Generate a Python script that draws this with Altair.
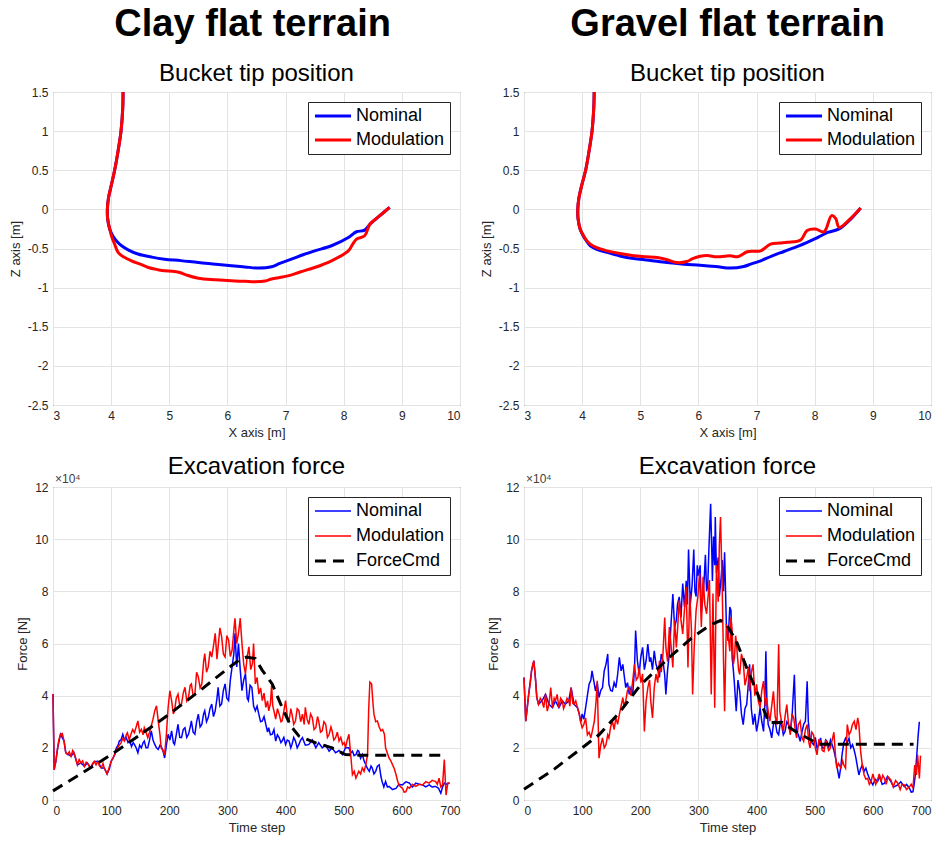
import altair as alt
import pandas as pd

FONT = "Liberation Sans"
BLUE = "#0000ff"
RED = "#ff0000"
BLACK = "#000000"

# ---------------- Bucket tip position (X [m], Z [m]) ----------------
clay_nom_x = [4.205, 4.20, 4.17, 4.12, 4.06, 4.0, 3.955, 3.935, 3.94, 3.975, 4.03, 4.10, 4.18, 4.30, 4.46, 4.70, 4.92, 5.20, 5.50, 5.80, 6.07, 6.30, 6.53, 6.76, 6.90, 7.10, 7.30, 7.50, 7.79, 8.08, 8.15, 8.22, 8.36, 8.45, 8.59, 8.79]
clay_nom_z = [1.5, 1.3, 1.0, 0.75, 0.50, 0.30, 0.15, 0.0, -0.12, -0.25, -0.34, -0.41, -0.465, -0.52, -0.57, -0.61, -0.636, -0.655, -0.68, -0.70, -0.72, -0.735, -0.75, -0.734, -0.69, -0.636, -0.58, -0.53, -0.465, -0.36, -0.32, -0.286, -0.265, -0.19, -0.10, 0.025]
clay_mod_x = [4.205, 4.20, 4.17, 4.12, 4.06, 4.0, 3.955, 3.935, 3.94, 3.975, 4.01, 4.06, 4.12, 4.22, 4.35, 4.50, 4.64, 4.80, 4.92, 5.05, 5.18, 5.30, 5.50, 5.80, 6.07, 6.30, 6.47, 6.65, 6.76, 6.90, 7.04, 7.25, 7.50, 7.79, 8.08, 8.15, 8.22, 8.36, 8.45, 8.59, 8.79]
clay_mod_z = [1.5, 1.3, 1.0, 0.75, 0.50, 0.30, 0.15, 0.0, -0.12, -0.25, -0.35, -0.444, -0.55, -0.61, -0.657, -0.70, -0.743, -0.77, -0.785, -0.79, -0.807, -0.84, -0.88, -0.90, -0.913, -0.92, -0.926, -0.915, -0.89, -0.87, -0.85, -0.80, -0.743, -0.657, -0.53, -0.45, -0.38, -0.337, -0.19, -0.10, 0.025]

grav_nom_x = [4.207, 4.20, 4.17, 4.12, 4.06, 3.99, 3.945, 3.925, 3.93, 3.965, 4.02, 4.08, 4.14, 4.25, 4.43, 4.65, 4.885, 5.15, 5.46, 5.75, 6.03, 6.30, 6.55, 6.78, 6.90, 7.07, 7.25, 7.47, 7.75, 7.99, 8.10, 8.22, 8.42, 8.62, 8.79]
grav_nom_z = [1.5, 1.3, 1.0, 0.75, 0.50, 0.30, 0.15, 0.0, -0.12, -0.25, -0.34, -0.41, -0.465, -0.51, -0.55, -0.595, -0.628, -0.65, -0.68, -0.70, -0.713, -0.73, -0.75, -0.73, -0.70, -0.657, -0.60, -0.538, -0.46, -0.38, -0.34, -0.295, -0.25, -0.124, 0.017]
grav_mod_x = [4.207, 4.20, 4.17, 4.12, 4.06, 3.99, 3.945, 3.925, 3.93, 3.965, 4.02, 4.08, 4.14, 4.25, 4.43, 4.65, 4.885, 5.10, 5.29, 5.45, 5.63, 5.80, 5.90, 6.03, 6.15, 6.31, 6.45, 6.55, 6.67, 6.84, 6.95, 7.07, 7.24, 7.40, 7.53, 7.76, 7.87, 8.01, 8.16, 8.29, 8.36, 8.42, 8.62, 8.79]
grav_mod_z = [1.5, 1.3, 1.0, 0.75, 0.50, 0.30, 0.15, 0.0, -0.12, -0.25, -0.33, -0.40, -0.444, -0.49, -0.53, -0.565, -0.593, -0.605, -0.615, -0.64, -0.68, -0.666, -0.63, -0.60, -0.59, -0.606, -0.60, -0.593, -0.606, -0.542, -0.535, -0.53, -0.444, -0.43, -0.42, -0.39, -0.27, -0.25, -0.286, -0.08, -0.115, -0.23, -0.115, 0.017]

# ---------------- Excavation force (x 10^4 N) vs time step ----------------
clay_mod_t = [0, 2, 5, 8, 10, 13, 16, 19, 22, 25, 28, 31, 34, 36, 39, 42, 45, 48, 51, 54, 57, 59, 62, 65, 68, 71, 74, 77, 80, 83, 86, 88, 91, 93, 96, 100, 103, 106, 109, 111, 114, 117, 120, 123, 126, 128, 131, 134, 137, 140, 143, 146, 149, 152, 155, 157, 160, 163, 166, 169, 172, 175, 178, 181, 184, 186, 189, 192, 195, 198, 201, 204, 207, 209, 212, 215, 218, 221, 224, 227, 230, 233, 236, 238, 241, 244, 247, 250, 253, 256, 259, 261, 264, 267, 270, 273, 276, 279, 282, 284, 287, 290, 293, 296, 299, 302, 305, 308, 311, 313, 316, 319, 322, 325, 328, 331, 334, 337, 340, 343, 345, 348, 351, 354, 357, 360, 363, 366, 369, 371, 374, 376, 378, 380, 383, 386, 389, 392, 394, 397, 400, 403, 406, 409, 411, 414, 417, 420, 423, 426, 429, 432, 434, 437, 440, 443, 446, 449, 452, 455, 457, 460, 463, 466, 469, 472, 475, 478, 480, 483, 486, 489, 492, 495, 498, 501, 503, 506, 509, 512, 515, 518, 521, 524, 526, 529, 532, 535, 538, 541, 543, 545, 548, 550, 552, 555, 558, 561, 564, 567, 570, 572, 575, 578, 581, 584, 587, 590, 593, 595, 598, 601, 604, 607, 610, 613, 618, 624, 630, 636, 641, 647, 652, 658, 661, 664, 667, 670, 673, 676, 679, 682]
clay_mod_f = [4.06, 1.16, 1.5, 2.0, 2.3, 2.52, 2.55, 2.26, 1.81, 1.74, 1.85, 1.68, 1.9, 1.81, 1.6, 1.35, 1.55, 1.42, 1.5, 1.29, 1.45, 1.42, 1.3, 1.23, 1.4, 1.48, 1.35, 1.48, 1.3, 1.23, 1.4, 1.23, 1.1, 1.0, 1.2, 1.48, 1.6, 1.74, 1.9, 2.0, 2.1, 2.19, 2.35, 2.26, 2.5, 2.58, 2.3, 2.52, 2.7, 2.58, 2.8, 3.03, 2.6, 2.71, 2.5, 2.77, 2.6, 2.39, 2.6, 2.84, 3.1, 3.42, 3.61, 3.03, 2.5, 2.0, 1.9, 1.74, 2.52, 3.55, 4.19, 3.81, 3.3, 3.42, 3.9, 4.06, 3.6, 3.68, 4.1, 4.32, 3.8, 3.94, 4.4, 4.45, 4.0, 4.06, 4.9, 4.71, 4.3, 4.45, 5.3, 5.61, 4.9, 5.1, 5.7, 5.48, 5.9, 6.39, 5.4, 5.87, 6.6, 6.26, 5.6, 5.48, 6.3, 6.13, 5.5, 5.74, 6.5, 6.97, 6.0, 6.39, 6.97, 6.0, 5.2, 4.84, 5.5, 5.87, 5.0, 5.23, 6.0, 4.45, 4.7, 4.06, 4.3, 3.81, 4.1, 3.55, 3.8, 3.42, 3.7, 4.39, 3.6, 3.42, 3.1, 3.5, 3.29, 3.0, 3.03, 3.4, 3.81, 3.2, 3.03, 3.5, 3.29, 2.9, 3.03, 3.5, 3.42, 3.0, 3.29, 2.9, 3.55, 3.1, 2.9, 3.3, 3.16, 2.7, 2.77, 3.2, 3.03, 2.6, 2.65, 3.0, 2.9, 2.4, 2.52, 2.8, 2.65, 2.3, 2.39, 2.6, 2.26, 2.4, 2.13, 2.2, 2.0, 2.3, 2.52, 1.74, 0.97, 1.1, 0.84, 1.0, 1.1, 1.0, 1.23, 1.1, 1.35, 1.74, 3.5, 4.52, 4.45, 3.8, 3.29, 3.0, 3.03, 2.8, 2.65, 2.7, 2.52, 2.0, 1.8, 1.61, 1.5, 1.35, 1.2, 0.97, 0.7, 0.58, 0.5, 0.45, 0.3, 0.32, 0.5, 0.45, 0.6, 0.52, 0.6, 0.58, 0.7, 0.65, 0.75, 0.71, 0.6, 0.84, 0.5, 0.58, 1.55, 0.19, 0.65, 0.65]

clay_nom_t = [0, 2, 5, 8, 13, 19, 22, 31, 36, 42, 48, 54, 59, 65, 71, 77, 83, 88, 93, 97, 100, 103, 106, 109, 112, 114, 117, 120, 123, 126, 129, 132, 135, 138, 140, 143, 146, 149, 152, 155, 157, 160, 163, 166, 169, 172, 175, 178, 181, 184, 186, 189, 192, 195, 198, 201, 204, 207, 209, 212, 215, 218, 221, 224, 227, 230, 233, 236, 238, 241, 244, 247, 250, 253, 256, 259, 261, 264, 267, 270, 273, 276, 279, 282, 284, 287, 290, 293, 296, 299, 302, 305, 308, 311, 313, 316, 319, 322, 325, 328, 331, 334, 336, 339, 342, 345, 348, 351, 354, 357, 360, 363, 366, 369, 371, 374, 377, 380, 383, 386, 389, 392, 394, 397, 400, 403, 406, 409, 411, 414, 417, 420, 423, 426, 429, 434, 440, 446, 452, 457, 463, 469, 475, 480, 486, 492, 498, 503, 509, 512, 515, 518, 521, 524, 526, 529, 532, 535, 538, 541, 544, 547, 549, 552, 555, 558, 561, 564, 566, 569, 572, 575, 578, 584, 590, 595, 601, 607, 613, 618, 624, 630, 636, 641, 647, 652, 658, 663, 667, 670, 673, 676, 682]
clay_nom_f = [4.06, 1.16, 1.5, 2.0, 2.52, 2.26, 1.81, 1.68, 1.81, 1.35, 1.42, 1.29, 1.42, 1.23, 1.48, 1.48, 1.23, 1.23, 1.0, 1.2, 1.48, 1.6, 1.74, 2.0, 2.1, 2.26, 2.3, 2.52, 2.3, 2.39, 2.2, 2.26, 2.05, 2.2, 2.13, 2.0, 1.81, 2.1, 2.0, 2.2, 2.26, 2.0, 2.0, 2.3, 2.65, 2.3, 2.13, 2.0, 1.94, 2.1, 2.06, 1.9, 1.61, 2.1, 2.52, 2.3, 2.65, 2.2, 2.13, 2.5, 2.9, 2.4, 2.39, 2.7, 2.77, 2.4, 2.52, 2.8, 3.03, 2.6, 2.52, 3.0, 3.29, 2.8, 2.9, 3.3, 3.42, 3.0, 3.16, 3.5, 3.68, 3.2, 3.42, 3.9, 4.32, 3.6, 3.68, 4.2, 4.45, 3.9, 3.81, 4.6, 5.1, 5.6, 6.39, 5.1, 6.0, 5.0, 4.19, 4.6, 4.84, 3.9, 3.81, 4.4, 4.32, 3.6, 3.42, 3.6, 3.29, 3.0, 3.03, 3.2, 2.9, 2.6, 2.77, 2.5, 2.52, 2.7, 2.26, 2.5, 2.39, 2.2, 2.26, 2.4, 2.13, 2.3, 2.26, 2.0, 2.13, 2.4, 2.26, 2.0, 2.13, 2.3, 2.39, 2.1, 2.13, 2.3, 2.0, 2.2, 2.0, 2.1, 1.87, 2.0, 1.81, 1.9, 1.74, 2.0, 2.0, 1.8, 1.87, 1.7, 1.74, 1.9, 1.87, 1.6, 1.74, 1.5, 1.35, 1.2, 1.1, 1.3, 1.23, 1.0, 1.1, 1.3, 1.35, 0.9, 0.71, 0.5, 0.71, 0.5, 0.52, 0.4, 0.45, 0.6, 0.58, 0.7, 0.65, 0.5, 0.65, 0.6, 0.58, 0.5, 0.58, 0.5, 0.52, 0.45, 0.26, 0.5, 0.65, 0.6, 0.65]

clay_cmd_t = [0, 50, 100, 150, 200, 250, 300, 319, 333, 348, 360, 377, 394, 409, 423, 452, 480, 503, 526, 668]
clay_cmd_f = [0.35, 1.03, 1.74, 2.5, 3.29, 4.15, 5.03, 5.35, 5.48, 5.42, 4.97, 4.45, 3.55, 2.84, 2.45, 2.19, 2.0, 1.74, 1.72, 1.72]

grav_mod_t = [0, 3, 6, 8, 11, 13, 15, 17, 20, 22, 25, 28, 31, 34, 37, 40, 43, 46, 49, 52, 54, 57, 60, 63, 66, 68, 71, 74, 77, 79, 81, 84, 86, 89, 92, 95, 97, 100, 103, 106, 109, 112, 115, 118, 121, 124, 126, 129, 132, 135, 138, 141, 144, 146, 149, 152, 155, 158, 161, 164, 167, 170, 172, 175, 178, 181, 184, 187, 190, 193, 196, 198, 201, 204, 207, 210, 213, 216, 218, 221, 224, 227, 230, 233, 236, 239, 242, 244, 247, 250, 253, 256, 259, 262, 264, 267, 270, 273, 276, 279, 282, 285, 288, 290, 293, 296, 299, 302, 305, 308, 311, 314, 317, 319, 322, 325, 328, 331, 334, 336, 338, 341, 343, 345, 348, 351, 354, 356, 358, 360, 362, 364, 366, 369, 371, 374, 377, 380, 383, 386, 388, 391, 394, 397, 400, 403, 406, 409, 412, 415, 417, 420, 423, 426, 429, 432, 435, 438, 440, 443, 446, 449, 452, 455, 458, 461, 464, 467, 469, 472, 475, 478, 481, 484, 487, 490, 492, 495, 498, 501, 504, 507, 510, 513, 516, 519, 521, 524, 527, 530, 533, 536, 538, 541, 545, 548, 550, 553, 556, 559, 562, 565, 568, 571, 574, 576, 579, 582, 585, 588, 591, 594, 597, 600, 602, 605, 608, 611, 614, 617, 620, 623, 626, 631, 635, 639, 643, 647, 650, 654, 658, 663, 666, 669, 672, 675, 677, 680, 682]
grav_mod_f = [4.7, 3.02, 3.6, 4.05, 4.5, 4.95, 5.2, 5.34, 4.57, 3.93, 3.67, 3.9, 3.8, 3.54, 4.05, 3.41, 3.67, 4.31, 3.54, 3.9, 3.8, 4.05, 3.54, 3.9, 3.8, 3.5, 3.67, 3.9, 3.8, 3.6, 4.31, 3.7, 3.67, 3.8, 3.54, 3.3, 3.02, 2.77, 2.9, 3.15, 2.5, 2.6, 2.38, 2.7, 3.02, 3.8, 4.57, 1.6, 2.1, 2.38, 2.0, 2.12, 2.5, 2.38, 2.8, 3.02, 2.7, 3.15, 2.9, 3.28, 3.6, 3.93, 3.6, 3.8, 4.2, 4.31, 4.0, 4.57, 5.2, 4.6, 4.7, 5.08, 4.5, 4.83, 2.63, 3.8, 4.31, 4.6, 3.8, 3.15, 4.3, 4.83, 4.5, 5.34, 4.9, 5.6, 7.0, 5.85, 5.3, 6.63, 5.9, 5.08, 6.89, 5.85, 6.5, 7.66, 6.9, 6.37, 7.3, 8.17, 5.08, 7.92, 6.5, 4.05, 6.0, 7.27, 7.8, 8.69, 6.63, 8.56, 7.5, 7.14, 7.9, 8.43, 4.05, 7.92, 3.54, 9.0, 7.6, 9.8, 10.85, 8.0, 5.5, 3.4, 6.74, 6.35, 5.7, 7.0, 6.48, 5.2, 5.46, 6.3, 5.84, 5.0, 4.81, 5.6, 5.33, 4.4, 4.69, 5.1, 4.17, 4.9, 5.2, 4.0, 4.43, 3.8, 3.53, 4.2, 4.56, 3.6, 3.92, 3.4, 3.02, 3.6, 4.17, 3.2, 2.89, 5.97, 3.4, 3.0, 2.63, 3.2, 3.66, 2.9, 2.5, 3.3, 3.14, 2.6, 2.38, 2.9, 3.02, 2.4, 2.25, 2.7, 2.89, 2.2, 2.0, 2.6, 2.5, 2.0, 1.73, 2.3, 2.25, 1.9, 1.86, 2.3, 2.12, 1.9, 1.99, 2.3, 2.6, 1.6, 1.22, 1.4, 1.22, 1.5, 1.35, 1.22, 2.89, 2.5, 2.63, 2.9, 3.02, 2.7, 3.15, 2.89, 1.86, 1.3, 0.96, 0.8, 0.83, 0.6, 0.71, 1.0, 0.83, 0.6, 0.77, 1.0, 0.7, 0.95, 0.83, 0.6, 0.9, 0.77, 0.5, 0.75, 0.64, 0.4, 0.6, 0.58, 0.4, 0.51, 0.6, 0.45, 1.34, 0.96, 1.73, 0.83, 1.7]

grav_nom_t = [0, 3, 8, 13, 17, 20, 22, 25, 31, 37, 43, 49, 54, 60, 66, 71, 77, 81, 86, 92, 95, 98, 100, 103, 106, 109, 112, 115, 117, 120, 123, 126, 129, 132, 135, 138, 141, 144, 146, 149, 152, 155, 158, 161, 164, 167, 170, 172, 175, 178, 181, 184, 187, 190, 192, 195, 198, 201, 204, 207, 210, 213, 216, 218, 221, 224, 227, 230, 233, 236, 239, 242, 244, 247, 250, 253, 256, 259, 262, 264, 267, 270, 273, 276, 279, 281, 283, 286, 289, 292, 294, 296, 298, 300, 303, 305, 307, 310, 312, 314, 316, 318, 321, 323, 324, 326, 328, 329, 331, 334, 336, 339, 341, 343, 345, 348, 351, 354, 356, 358, 360, 362, 365, 368, 371, 374, 377, 380, 383, 386, 388, 391, 394, 397, 400, 403, 406, 409, 412, 414, 416, 418, 420, 423, 426, 429, 432, 435, 438, 441, 443, 446, 449, 452, 455, 458, 461, 465, 467, 469, 472, 475, 478, 481, 484, 487, 489, 492, 495, 498, 501, 504, 507, 510, 513, 516, 519, 521, 524, 527, 530, 533, 536, 539, 542, 545, 547, 550, 553, 556, 559, 562, 565, 568, 571, 574, 576, 579, 582, 585, 588, 591, 594, 597, 600, 604, 608, 612, 616, 620, 625, 631, 636, 643, 648, 654, 658, 663, 666, 669, 671, 673, 676, 678, 680]
grav_nom_f = [4.7, 3.02, 4.05, 4.95, 5.34, 4.57, 3.93, 3.67, 3.8, 4.05, 3.67, 3.54, 3.8, 3.54, 3.8, 3.67, 3.8, 4.31, 3.67, 3.54, 3.3, 3.0, 3.3, 3.1, 3.54, 4.0, 4.44, 4.6, 4.95, 4.57, 4.18, 4.5, 3.93, 4.2, 4.31, 4.95, 5.2, 5.6, 4.44, 4.2, 4.18, 4.5, 4.31, 4.8, 5.47, 4.95, 5.2, 4.83, 4.31, 4.5, 4.05, 4.3, 4.05, 5.0, 6.5, 5.34, 4.83, 5.5, 5.85, 5.0, 5.34, 5.98, 5.3, 5.47, 5.0, 5.72, 5.21, 5.0, 4.7, 5.6, 5.34, 4.8, 4.05, 5.0, 5.6, 6.8, 7.9, 6.63, 6.89, 7.5, 7.79, 7.0, 8.3, 7.4, 8.4, 7.5, 9.6, 7.5, 8.2, 9.6, 8.0, 7.8, 9.0, 8.6, 9.0, 7.2, 7.6, 8.5, 9.4, 8.0, 8.2, 9.6, 11.36, 9.5, 8.4, 10.1, 9.0, 10.85, 8.7, 9.3, 7.8, 8.5, 9.2, 8.0, 9.5, 6.74, 6.1, 7.4, 7.26, 5.46, 5.0, 4.43, 3.4, 4.6, 4.17, 3.3, 2.89, 3.5, 3.66, 4.5, 5.2, 3.5, 2.89, 3.3, 2.63, 3.0, 3.53, 3.0, 2.63, 3.6, 5.7, 3.5, 2.89, 2.7, 2.38, 2.9, 3.02, 2.6, 2.5, 3.0, 2.89, 2.5, 2.63, 3.0, 2.89, 2.6, 3.2, 4.8, 3.2, 2.63, 2.5, 2.25, 2.6, 2.9, 3.02, 4.55, 3.0, 2.38, 2.2, 2.12, 2.4, 1.99, 2.1, 2.38, 2.0, 1.99, 2.3, 2.25, 2.0, 2.3, 2.12, 1.9, 1.6, 1.2, 0.83, 1.3, 1.73, 2.2, 2.37, 2.2, 2.37, 2.0, 2.12, 1.9, 1.6, 1.2, 0.96, 1.2, 1.35, 1.1, 1.22, 1.0, 0.83, 0.7, 0.58, 0.8, 0.71, 0.9, 0.6, 0.64, 0.9, 0.71, 0.5, 0.58, 0.7, 0.51, 0.6, 0.45, 0.3, 0.32, 0.6, 0.96, 1.86, 2.5, 3.0]

grav_cmd_t = [0, 50, 100, 129, 164, 200, 250, 290, 320, 338, 348, 365, 383, 400, 421, 444, 469, 498, 510, 670]
grav_cmd_f = [0.41, 1.15, 2.0, 2.5, 3.35, 4.4, 5.47, 6.24, 6.7, 6.88, 6.74, 6.1, 5.07, 4.17, 2.97, 2.97, 2.6, 2.25, 2.14, 2.14]

TIP_SERIES = ["Nominal", "Modulation"]
FORCE_SERIES = ["Nominal", "Modulation", "ForceCmd"]

PW, PH = 407, 313
RES = dict(color="independent", strokeDash="independent", strokeWidth="independent")


def tip_df(nx, nz, mx, mz):
    rows = []
    for i, (a, b) in enumerate(zip(nx, nz)):
        rows.append({"series": "Nominal", "idx": i, "x": a, "z": b})
    for i, (a, b) in enumerate(zip(mx, mz)):
        rows.append({"series": "Modulation", "idx": i, "x": a, "z": b})
    return pd.DataFrame(rows)


def force_df(nt, nf, mt, mf, ct, cf):
    rows = []
    for s, ts, fs in (("Nominal", nt, nf), ("Modulation", mt, mf), ("ForceCmd", ct, cf)):
        for a, b in zip(ts, fs):
            rows.append({"series": s, "t": a, "f": b})
    return pd.DataFrame(rows)


def legend_common(sw, row_pad):
    return alt.Legend(
        title=None, orient="top-right", offset=10, fillColor="white",
        strokeColor="#262626", padding=5, labelFontSize=18, labelFont=FONT,
        labelColor="black", symbolType="stroke", symbolSize=1300,
        symbolStrokeWidth=sw, rowPadding=row_pad, clipHeight=18,
        labelOffset=3, labelLimit=200,
    )


def tip_panel(df):
    base = alt.Chart(df).mark_line(strokeWidth=3, interpolate="catmull-rom").encode(
        x=alt.X("x:Q", scale=alt.Scale(domain=[3, 10], nice=False, zero=False),
                axis=alt.Axis(values=[3, 4, 5, 6, 7, 8, 9, 10], title="X axis [m]")),
        y=alt.Y("z:Q", scale=alt.Scale(domain=[-2.5, 1.5], nice=False, zero=False),
                axis=alt.Axis(values=[-2.5, -2, -1.5, -1, -0.5, 0, 0.5, 1, 1.5],
                              title="Z axis [m]", labelExpr="datum.value + ''")),
        order=alt.Order("idx:Q"),
        color=alt.Color("series:N", scale=alt.Scale(domain=TIP_SERIES, range=[BLUE, RED]),
                        legend=legend_common(3, 6)),
    )
    layers = alt.layer(
        base.transform_filter("datum.series == 'Nominal'"),
        base.transform_filter("datum.series == 'Modulation'"),
    )
    return layers.properties(
        width=PW, height=PH,
        title=alt.Title("Bucket tip position", fontSize=24, font=FONT,
                        fontWeight="normal", color="black", offset=0),
    )


def force_panel(df):
    leg = legend_common(2, 7)
    base = alt.Chart(df).mark_line().encode(
        x=alt.X("t:Q", scale=alt.Scale(domain=[0, 700], nice=False, zero=False),
                axis=alt.Axis(values=[0, 100, 200, 300, 400, 500, 600, 700], title="Time step")),
        y=alt.Y("f:Q", scale=alt.Scale(domain=[0, 12], nice=False, zero=False),
                axis=alt.Axis(values=[0, 2, 4, 6, 8, 10, 12], title="Force [N]")),
        color=alt.Color("series:N", scale=alt.Scale(domain=FORCE_SERIES, range=[BLUE, RED, BLACK]),
                        legend=leg),
        strokeDash=alt.StrokeDash("series:N",
                                  scale=alt.Scale(domain=FORCE_SERIES, range=[[1, 0], [1, 0], [11, 7]]),
                                  legend=leg),
        strokeWidth=alt.StrokeWidth("series:N",
                                    scale=alt.Scale(type="ordinal", domain=FORCE_SERIES, range=[1.5, 1.5, 3]),
                                    legend=leg),
    )
    exp_txt = alt.Chart(pd.DataFrame({"label": ["×10⁴"]})).mark_text(
        align="left", baseline="bottom", fontSize=12, font=FONT, color="#404040"
    ).encode(text="label:N", x=alt.value(2), y=alt.value(-1))
    layers = alt.layer(
        base.transform_filter("datum.series == 'Nominal'"),
        base.transform_filter("datum.series == 'Modulation'"),
        base.transform_filter("datum.series == 'ForceCmd'"),
        exp_txt,
    )
    return layers.properties(
        width=PW, height=PH,
        title=alt.Title("Excavation force", fontSize=24, font=FONT,
                        fontWeight="normal", color="black", offset=-6),
    )


clay_tip = tip_panel(tip_df(clay_nom_x, clay_nom_z, clay_mod_x, clay_mod_z))
grav_tip = tip_panel(tip_df(grav_nom_x, grav_nom_z, grav_mod_x, grav_mod_z))
clay_force = force_panel(force_df(clay_nom_t, clay_nom_f, clay_mod_t, clay_mod_f, clay_cmd_t, clay_cmd_f))
grav_force = force_panel(force_df(grav_nom_t, grav_nom_f, grav_mod_t, grav_mod_f, grav_cmd_t, grav_cmd_f))

col_title = dict(fontSize=38, font=FONT, fontWeight="bold", color="black", anchor="middle", offset=18)
col1 = alt.vconcat(clay_tip, clay_force, spacing=14,
                   title=alt.Title("Clay flat terrain", dx=18, **col_title)).resolve_scale(**RES)
col2 = alt.vconcat(grav_tip, grav_force, spacing=14,
                   title=alt.Title("Gravel flat terrain", dx=22, **col_title)).resolve_scale(**RES)

chart = alt.hconcat(col1, col2, spacing=18).resolve_scale(**RES).properties(
    padding={"left": 8, "top": 5, "right": 5, "bottom": 5},
    background="white",
).configure_view(
    stroke="#262626", strokeWidth=1
).configure_axis(
    grid=True, gridColor="#e3e3e3", gridWidth=1, domain=False, ticks=False,
    labelFont=FONT, labelFontSize=12, labelColor="#262626", labelPadding=5,
    titleFont=FONT, titleFontSize=13, titleFontWeight="normal", titleColor="#262626",
    titlePadding=5,
)

chart.save("out.html", embed_options={"renderer": "svg", "actions": False})
